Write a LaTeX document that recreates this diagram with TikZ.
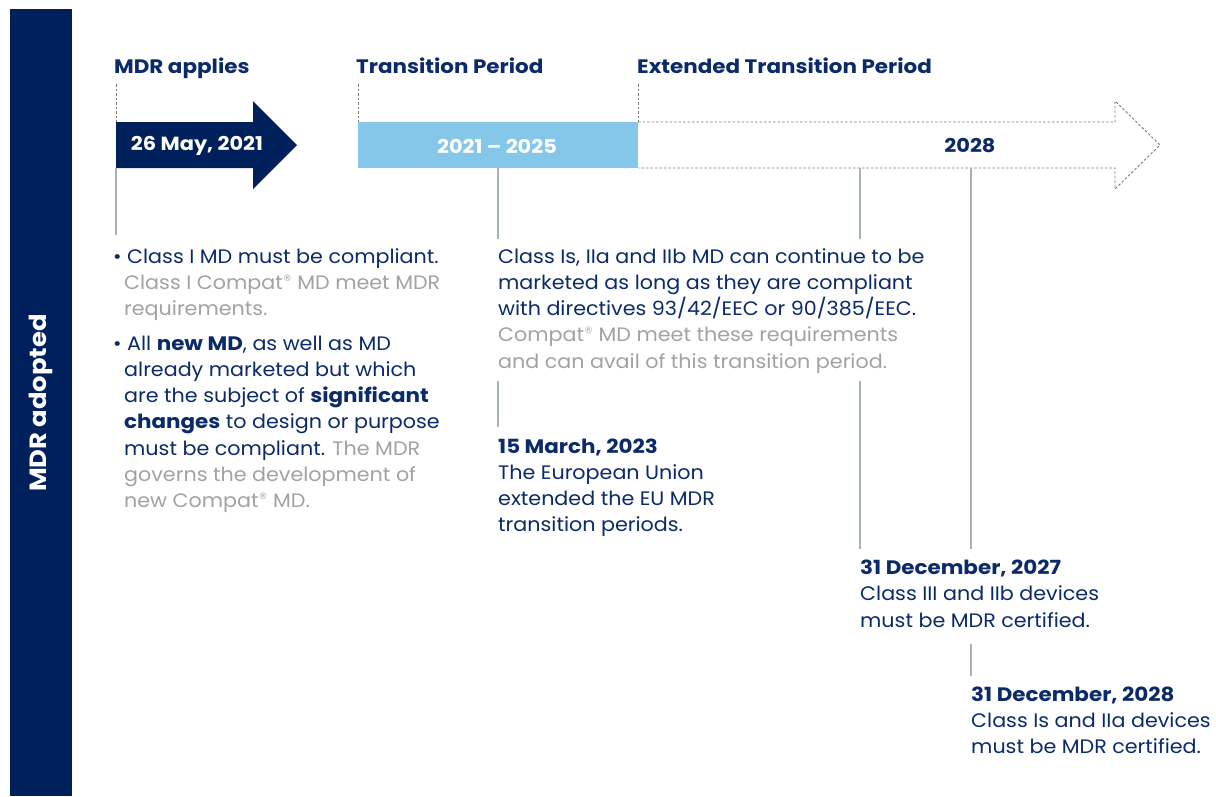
\documentclass[tikz,border=0pt]{standalone}
\usepackage{fontspec}
\setmainfont{Poppins}[FakeStretch=1.06, BoldFeatures={FakeStretch=1.1}]
\newfontfamily\regfont{DejaVu Sans}
\definecolor{navy}{HTML}{00205B}
\definecolor{navyt}{HTML}{0B2A6A}
\definecolor{lblue}{HTML}{84C7E8}
\definecolor{greyt}{HTML}{A2A2A2}
\definecolor{lineg}{HTML}{A8B2B9}
\definecolor{dashg}{HTML}{7A7A7A}
\newcommand{\reg}{\raisebox{0.42em}{\regfont\fontsize{9}{9}\selectfont ®}}
\newcommand{\gt}[1]{\textcolor{greyt}{#1}}
\begin{document}
\begin{tikzpicture}[x=1pt,y=-1pt,
  body/.style={anchor=base west, inner sep=0pt, text=navyt, font=\fontsize{19.5}{22}\selectfont},
  hdr/.style={anchor=base west, inner sep=0pt, text=navyt, font=\fontsize{19.5}{22}\selectfont\bfseries},
  gline/.style={draw=lineg, line width=1.6pt},
  dline/.style={draw=dashg, line width=0.9pt, dash pattern=on 2.5pt off 2pt}]
\useasboundingbox (0,0) rectangle (1216,796);
\fill[white] (0,0) rectangle (1216,796);
% left bar
\fill[navy] (10,9) rectangle (72,796);
\node[rotate=90, text=white, font=\fontsize{23.5}{26}\selectfont\bfseries, inner sep=0pt] (adopt) at (41,403) {MDR adopted};
% headers
\node[hdr] (h1) at (114,73) {MDR applies};
\node[hdr] (h2) at (356,73) {Transition Period};
\node[hdr] (h3) at (637,73) {Extended Transition Period};
% coordinates
\coordinate (a1t) at (116,84); \coordinate (a1b) at (116,122);
\coordinate (a2t) at (358,84); \coordinate (a2b) at (358,122);
\coordinate (a3t) at (638,84); \coordinate (a3b) at (638,122);
% dark arrow
\fill[navy] (116,122) -- (253,122) -- (253,101) -- (297,145) -- (253,189) -- (253,168) -- (116,168) -- cycle;
\node[text=white, font=\fontsize{19}{22}\selectfont\bfseries] (d1) at (197,146) {26 May, 2021};
% blue bar
\fill[lblue] (358,122) rectangle (638,168);
\node[text=white, font=\fontsize{19}{22}\selectfont\bfseries] (d2) at (497,146) {2021 – 2025};
% dashed arrow
\draw[dline] (638,122) -- (1115,122) -- (1115,101) -- (1160,145) -- (1115,189) -- (1115,168) -- (638,168);
\node[text=navyt, font=\fontsize{19}{22}\selectfont\bfseries] (d3) at (970,146) {2028};
% dashed leaders
\draw[dline] (a1t) -- (a1b);
\draw[dline] (a2t) -- (a2b);
\draw[dline] (a3t) -- (a3b);
% grey connectors
\coordinate (p1a) at (116,168); \coordinate (p1b) at (116,235);
\coordinate (p2a) at (498,168); \coordinate (p2b) at (498,239);
\coordinate (p3a) at (498,381); \coordinate (p3b) at (498,427);
\coordinate (p4a) at (860,168); \coordinate (p4b) at (860,239);
\coordinate (p5a) at (860,381); \coordinate (p5b) at (860,549);
\coordinate (p6a) at (971,168); \coordinate (p6b) at (971,549);
\coordinate (p7a) at (971,644); \coordinate (p7b) at (971,676);
\draw[gline] (p1a) -- (p1b);
\draw[gline] (p2a) -- (p2b);
\draw[gline] (p3a) -- (p3b);
\draw[gline] (p4a) -- (p4b);
\draw[gline] (p5a) -- (p5b);
\draw[gline] (p6a) -- (p6b);
\draw[gline] (p7a) -- (p7b);
% left column
\node[body] (b1) at (113,263) {•};
\node[body] (l1) at (127,263) {Class I MD must be compliant.};
\node[body] (l2) at (124,289.3) {\gt{Class I Compat\reg{} MD meet MDR}};
\node[body] (l3) at (124,315.6) {\gt{requirements.}};
\node[body] (b2) at (113,350) {•};
\node[body] (l4) at (127,350) {All \textbf{new MD}, as well as MD};
\node[body] (l5) at (124,376.3) {already marketed but which};
\node[body] (l6) at (124,402.6) {are the subject of \textbf{significant}};
\node[body] (l7) at (124,428.9) {\textbf{changes} to design or purpose};
\node[body] (l8) at (124,455.2) {must be compliant. \gt{The MDR}};
\node[body] (l9) at (124,481.5) {\gt{governs the development of}};
\node[body] (l10) at (124,507.8) {\gt{new Compat\reg{} MD.}};
% middle column
\node[body] (m1) at (498,263) {Class Is, IIa and IIb MD can continue to be};
\node[body] (m2) at (498,289.3) {marketed as long as they are compliant};
\node[body] (m3) at (498,315.6) {with directives 93/42/EEC or 90/385/EEC.};
\node[body] (m4) at (498,341.9) {\gt{Compat\reg{} MD meet these requirements}};
\node[body] (m5) at (498,368.2) {\gt{and can avail of this transition period.}};
\node[hdr] (m6) at (498,453) {15 March, 2023};
\node[body] (m7) at (498,479.3) {The European Union};
\node[body] (m8) at (498,505.6) {extended the EU MDR};
\node[body] (m9) at (498,531.9) {transition periods.};
% right texts
\node[hdr] (r1) at (860,574.5) {31 December, 2027};
\node[body] (r2) at (860,600.8) {Class III and IIb devices};
\node[body] (r3) at (860,627.1) {must be MDR certified.};
\node[hdr] (s1) at (971,701) {31 December, 2028};
\node[body] (s2) at (971,727.3) {Class Is and IIa devices};
\node[body] (s3) at (971,753.6) {must be MDR certified.};
\end{tikzpicture}
\end{document}
